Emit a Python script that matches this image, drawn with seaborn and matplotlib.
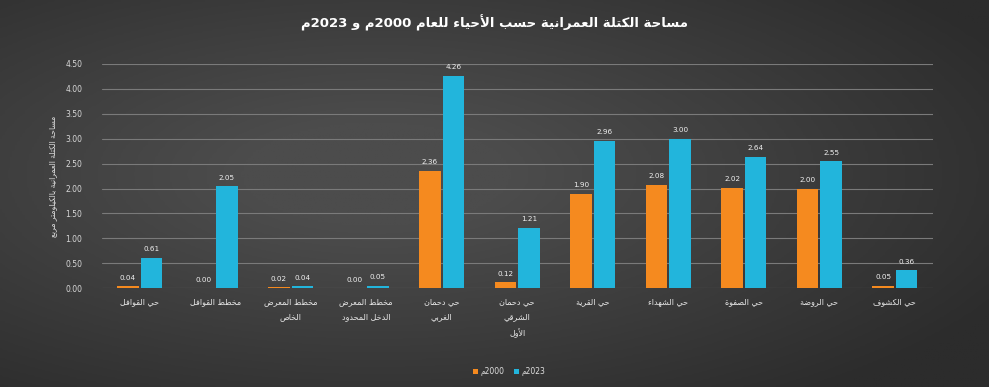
import numpy as np
import pandas as pd
import matplotlib
matplotlib.use("Agg")
import matplotlib.pyplot as plt
import seaborn as sns

# ---------------- data ----------------
categories = [
    "حي القوافل",
    "مخطط القوافل",
    "مخطط المعرض\nالخاص",
    "مخطط المعرض\nالدخل المحدود",
    "حي دحمان\nالغربي",
    "حي دحمان\nالشرقي\nالأول",
    "حي القرية",
    "حي الشهداء",
    "حي الصفوة",
    "حي الروضة",
    "حي الكشوف",
]
values_2000 = [0.04, 0.00, 0.02, 0.00, 2.36, 0.12, 1.90, 2.08, 2.02, 2.00, 0.05]
values_2023 = [0.61, 2.05, 0.04, 0.05, 4.26, 1.21, 2.96, 3.00, 2.64, 2.55, 0.36]
series_names = ["2000م", "2023م"]
title_text = "مساحة الكتلة العمرانية حسب الأحياء للعام 2000م و 2023م"
ylabel_text = "مساحة الكتلة العمرانية بالكيلومتر مربع"
yticks = [0.0, 0.5, 1.0, 1.5, 2.0, 2.5, 3.0, 3.5, 4.0, 4.5]

# ---------------- minimal Arabic shaping ----------------
FORMS = {
    'ا': (0xFE8D, 0xFE8E, None, None), 'أ': (0xFE83, 0xFE84, None, None),
    'إ': (0xFE87, 0xFE88, None, None), 'آ': (0xFE81, 0xFE82, None, None),
    'ب': (0xFE8F, 0xFE90, 0xFE91, 0xFE92), 'ة': (0xFE93, 0xFE94, None, None),
    'ت': (0xFE95, 0xFE96, 0xFE97, 0xFE98), 'ث': (0xFE99, 0xFE9A, 0xFE9B, 0xFE9C),
    'ج': (0xFE9D, 0xFE9E, 0xFE9F, 0xFEA0), 'ح': (0xFEA1, 0xFEA2, 0xFEA3, 0xFEA4),
    'خ': (0xFEA5, 0xFEA6, 0xFEA7, 0xFEA8), 'د': (0xFEA9, 0xFEAA, None, None),
    'ذ': (0xFEAB, 0xFEAC, None, None), 'ر': (0xFEAD, 0xFEAE, None, None),
    'ز': (0xFEAF, 0xFEB0, None, None), 'س': (0xFEB1, 0xFEB2, 0xFEB3, 0xFEB4),
    'ش': (0xFEB5, 0xFEB6, 0xFEB7, 0xFEB8), 'ص': (0xFEB9, 0xFEBA, 0xFEBB, 0xFEBC),
    'ض': (0xFEBD, 0xFEBE, 0xFEBF, 0xFEC0), 'ط': (0xFEC1, 0xFEC2, 0xFEC3, 0xFEC4),
    'ظ': (0xFEC5, 0xFEC6, 0xFEC7, 0xFEC8), 'ع': (0xFEC9, 0xFECA, 0xFECB, 0xFECC),
    'غ': (0xFECD, 0xFECE, 0xFECF, 0xFED0), 'ف': (0xFED1, 0xFED2, 0xFED3, 0xFED4),
    'ق': (0xFED5, 0xFED6, 0xFED7, 0xFED8), 'ك': (0xFED9, 0xFEDA, 0xFEDB, 0xFEDC),
    'ل': (0xFEDD, 0xFEDE, 0xFEDF, 0xFEE0), 'م': (0xFEE1, 0xFEE2, 0xFEE3, 0xFEE4),
    'ن': (0xFEE5, 0xFEE6, 0xFEE7, 0xFEE8), 'ه': (0xFEE9, 0xFEEA, 0xFEEB, 0xFEEC),
    'و': (0xFEED, 0xFEEE, None, None), 'ى': (0xFEEF, 0xFEF0, None, None),
    'ي': (0xFEF1, 0xFEF2, 0xFEF3, 0xFEF4), 'ء': (0xFE80, None, None, None),
    'ؤ': (0xFE85, 0xFE86, None, None), 'ئ': (0xFE89, 0xFE8A, 0xFE8B, 0xFE8C),
}
LAM_ALEF = {'ا': (0xFEFB, 0xFEFC), 'أ': (0xFEF7, 0xFEF8),
            'إ': (0xFEF9, 0xFEFA), 'آ': (0xFEF5, 0xFEF6)}


def joins_forward(ch):
    f = FORMS.get(ch)
    return f is not None and f[2] is not None


def joins_back(ch):
    f = FORMS.get(ch)
    return f is not None and f[1] is not None


def shape_line(s):
    out = []
    i = 0
    n = len(s)
    while i < n:
        ch = s[i]
        prev = s[i - 1] if i > 0 else ''
        prev_join = joins_forward(prev) and joins_back(ch)
        if ch == 'ل' and i + 1 < n and s[i + 1] in LAM_ALEF:
            iso, fin = LAM_ALEF[s[i + 1]]
            out.append(chr(fin if joins_forward(prev) else iso))
            i += 2
            continue
        if ch not in FORMS:
            out.append(ch)
            i += 1
            continue
        nxt = s[i + 1] if i + 1 < n else ''
        next_join = joins_forward(ch) and joins_back(nxt)
        iso, fin, ini, med = FORMS[ch]
        if prev_join and next_join:
            code = med
        elif prev_join:
            code = fin
        elif next_join:
            code = ini
        else:
            code = iso
        out.append(chr(code))
        i += 1
    # visual order: reverse, then restore LTR runs of digits
    rev = out[::-1]
    res = []
    run = []
    for c in rev:
        if c.isdigit() or c == '.':
            run.append(c)
        else:
            if run:
                res.extend(run[::-1])
                run = []
            res.append(c)
    if run:
        res.extend(run[::-1])
    return ''.join(res)


def ar(s):
    return '\n'.join(shape_line(line) for line in s.split('\n'))


# ---------------- figure ----------------
sns.set_theme(style="dark")
plt.rcParams['font.family'] = ['DejaVu Sans']

fig = plt.figure(figsize=(9.89, 3.87), dpi=100)

# background gradient
bg = fig.add_axes([0, 0, 1, 1], zorder=-10)
yy, xx = np.mgrid[0:1:200j, 0:1:400j]
r = np.sqrt(((xx - 0.38) / 0.9) ** 2 + ((yy - 0.45) / 0.9) ** 2)
grad = np.clip(1 - r, 0, 1)
bg.imshow(grad, cmap=matplotlib.colors.LinearSegmentedColormap.from_list(
    "g", ["#2c2c2c", "#4c4c4c"]), aspect='auto', extent=[0, 1, 0, 1], vmin=0.2, vmax=0.85)
bg.set_axis_off()

ax = fig.add_axes([0.103, 0.255, 0.84, 0.58])
ax.patch.set_alpha(0)

df = pd.DataFrame({
    "cat": categories * 2,
    "val": values_2000 + values_2023,
    "year": [series_names[0]] * len(categories) + [series_names[1]] * len(categories),
})
palette = {series_names[0]: "#F58A1F", series_names[1]: "#22B5DC"}
sns.barplot(data=df, x="cat", y="val", hue="year", palette=palette, ax=ax,
            width=0.62, gap=0.08, legend=False, saturation=1, zorder=3,
            edgecolor="none")

ax.set_ylim(0, 4.5)
ax.set_xlim(-0.5, len(categories) - 0.5)
ax.set_yticks(yticks)
ax.set_yticklabels([f"{v:.2f}" for v in yticks], color="#d8d8d8", fontsize=5.5)
ax.yaxis.grid(True, color="#7a7a7a", linewidth=0.8, zorder=0)
ax.xaxis.grid(False)
for s in ax.spines.values():
    s.set_visible(False)
ax.tick_params(axis='both', length=0, pad=14)
ax.tick_params(axis='x', pad=6)
ax.set_xticks(range(len(categories)))
ax.set_xticklabels([ar(c) for c in categories], color="#e8e8e8", fontsize=5.8,
                   va='top', linespacing=1.9)
ax.set_xlabel("")
ax.set_ylabel(ar(ylabel_text), color="#e0e0e0", fontsize=5.5, labelpad=6)

# value labels
for cont in ax.containers:
    ax.bar_label(cont, fmt="%.2f", color="#f0f0f0", fontsize=5.2, padding=4)

fig.text(0.5, 0.942, ar(title_text), color="white", fontsize=9.5,
         fontweight="bold", ha="center", va="center")

# legend
from matplotlib.patches import Patch
handles = [Patch(facecolor=palette[n], edgecolor="none") for n in series_names]
leg = fig.legend(handles, [ar(n) for n in series_names], loc="center",
                 bbox_to_anchor=(0.515, 0.04), ncol=2, frameon=False,
                 fontsize=5.5, handlelength=0.6, handleheight=0.6,
                 columnspacing=1.2, handletextpad=0.4)
for t in leg.get_texts():
    t.set_color("#e0e0e0")

fig.savefig("out.png", dpi=100, facecolor="#3a3a3a")
